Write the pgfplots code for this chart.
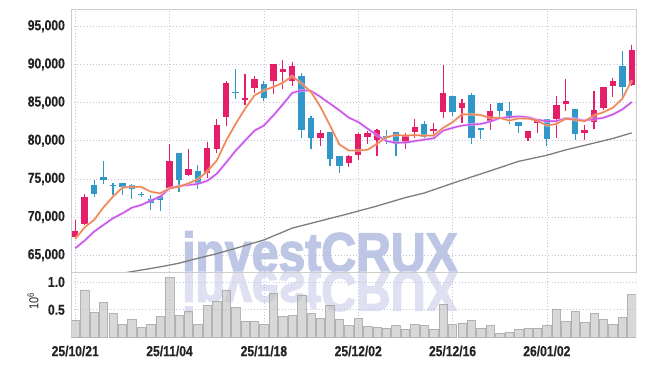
\documentclass[border=0pt]{standalone}
\usepackage{fontspec}
\setmainfont{Liberation Sans}[BoldFont={Liberation Sans Bold}, FakeStretch=0.84]
\newfontfamily\tickfnt{Liberation Sans Bold}[FakeStretch=0.84, FakeBold=0.4]
\newfontfamily\wmfont{Liberation Sans Bold}[FakeStretch=0.86, FakeBold=2.5]
\usepackage{pgfplots}
\pgfplotsset{compat=1.18}
\usepackage{pgfplotstable}

\definecolor{upc}{RGB}{228,30,105}
\definecolor{dnc}{RGB}{50,150,200}
\definecolor{maA}{RGB}{238,130,80}
\definecolor{maB}{RGB}{200,80,235}
\definecolor{maC}{RGB}{125,125,125}
\definecolor{gridc}{RGB}{195,195,222}
\definecolor{framec}{RGB}{205,205,205}
\definecolor{wm}{RGB}{190,198,229}
\definecolor{wmr}{RGB}{223,225,242}
\definecolor{tickc}{RGB}{35,35,35}
\definecolor{volf}{RGB}{190,190,190}
\definecolor{vold}{RGB}{165,165,165}

\pgfplotstableread{
i o h l c
0 67450 69600 67350 68180
1 69100 73020 68920 72630
10 73760 79600 73680 77300
12 75550 78950 75380 76250
14 75730 79870 75070 79000
15 78870 82870 78430 82120
16 83090 87890 81990 87540
18 85290 88810 84630 85650
19 86920 88460 86300 88060
21 87840 90100 86080 90040
22 89030 90530 86790 89380
23 87850 90260 87240 89780
26 80350 81450 79340 80970
29 77060 78160 76540 77980
30 78160 81050 77460 80880
31 80480 81320 79520 80970
32 80090 81580 77940 81360
35 79690 80970 78860 80570
36 81090 82860 80390 81750
38 81250 82350 80450 81600
39 83750 89910 83000 86300
41 84280 85510 82300 84900
44 82650 84770 81420 83930
48 80340 81320 80010 81310
49 82345 82900 81070 82830
51 82830 85820 80370 84630
52 84850 88110 83930 85160
54 81030 82080 80150 81470
55 82480 86520 81550 83970
56 84280 87100 84060 87100
57 87180 88280 85730 87800
59 87270 92600 87140 91850
}\up

\pgfplotstableread{
i o h l c
2 74200 74810 72590 73070
3 75250 77300 74330 74900
4 74250 74500 72850 74100
5 74420 74500 72850 73890
6 74200 74330 72330 73720
7 73070 73280 72670 72920
8 72370 72890 70930 71800
9 72720 72720 70800 72280
11 78340 78340 73300 74850
13 76030 76820 73680 74420
17 86350 89340 85510 86200
20 87450 87890 85160 85650
24 88470 88900 80400 81450
25 82940 83290 78950 80400
27 81100 81100 76750 77590
28 77940 78030 75790 76670
33 80570 81450 79600 80350
34 81100 81100 77940 79560
37 82240 82590 80300 80460
40 85820 85820 83310 83710
42 85950 86300 79570 80370
43 81690 81700 80190 81380
45 84900 84900 83000 83890
46 83930 85070 82260 83050
47 82520 82520 80980 81950
50 82870 82870 79350 80190
53 84190 84190 80150 80850
58 89780 91800 85510 87050
}\down

\pgfplotstableread{
i a b
0 67135 65910
1 68660 66920
2 69620 68090
3 71280 68970
4 72670 69840
5 73850 70490
6 73980 71230
7 73940 71580
8 73330 72150
9 73110 72670
10 73760 73760
11 73980 74070
12 74420 74200
13 74940 74350
14 76000 74750
15 77400 75670
16 80010 77150
17 82210 78690
18 84190 80010
19 85950 81330
20 86610 81990
21 87050 83320
22 87600 84750
23 88460 86270
24 87500 86620
25 86400 86540
26 84430 85750
27 82020 84870
28 79520 83990
29 78730 83030
30 78730 82460
31 78820 81580
32 79600 80700
33 80480 79960
34 80750 79740
35 80700 79740
36 80750 79960
37 80670 80150
38 80670 80320
39 81690 81330
40 82430 81690
41 83450 81990
42 83450 82130
43 83360 82210
44 83000 82520
45 83000 82960
46 82650 83090
47 82920 83180
48 82900 83090
49 82650 82740
50 81990 82570
51 82210 82570
52 82870 82960
53 82740 82870
54 82570 82650
55 83310 82830
56 83750 83010
57 84330 83450
58 85510 84110
59 87930 85070
}\ma

\pgfplotstableread{
i g
3 62200
6 62850
9 63470
11 63950
13 64600
15 65200
17 65900
20 67000
23 68550
26 69500
29 70450
32 71450
35 72550
37 73150
40 74430
42 75250
44 76060
47 77300
50 78100
52 78800
55 79700
57 80300
59 81030
}\mlong

\pgfplotstableread{
i v
0 0.315
1 0.857
2 0.452
3 0.631
4 0.435
5 0.238
6 0.327
7 0.179
8 0.238
9 0.375
10 1.077
11 0.399
12 0.470
13 0.238
14 0.583
15 0.649
16 0.857
17 0.542
18 0.292
19 0.292
20 0.238
21 0.792
22 0.375
23 0.399
24 0.768
25 0.435
26 0.345
27 0.583
28 0.327
29 0.220
30 0.345
31 0.202
32 0.185
33 0.167
34 0.220
35 0.149
36 0.238
37 0.220
38 0.149
39 0.601
40 0.238
41 0.262
42 0.310
43 0.167
44 0.220
45 0.077
46 0.095
47 0.149
48 0.167
49 0.167
50 0.220
51 0.506
52 0.292
53 0.470
54 0.274
55 0.435
56 0.327
57 0.238
58 0.363
59 0.774
}\vol

\pgfplotsset{
  tickfont/.style={font=\tickfnt\fontsize{14.4}{16}\selectfont, text=tickc},
  mygrid/.style={grid=major, major grid style={gridc, line width=0.7pt, dash pattern=on 0.7pt off 2.4pt}},
  candle/.style 2 args={draw=none, mark=none, forget plot,
    error bars/.cd, y dir=minus, y explicit, error mark=none,
    error bar style={draw=#1, line width=#2}},
}

\begin{document}
\begin{tikzpicture}
\useasboundingbox (0,0) rectangle (645pt,366pt);
% watermark
\node[anchor=base, inner sep=0pt, text=wm, font=\wmfont\fontsize{56}{56}\selectfont] at (320pt,94pt) {investCRUX};
\node[anchor=base, inner sep=0pt, yscale=-1, text=wmr, font=\wmfont\fontsize{56}{56}\selectfont] at (320pt,94pt) {investCRUX};

\begin{axis}[
  at={(71pt,94pt)}, anchor=south west, scale only axis,
  width=565pt, height=263pt,
  xmin=-0.45, xmax=59.45, ymin=62800, ymax=97270,
  xtick={0,10,...,50}, xticklabels={},
  ytick={65000,70000,...,95000},
  mygrid,
  axis line style={framec, line width=0.8pt},
  tick style={draw=none},
  scaled y ticks=false,
  yticklabel style={tickfont, anchor=east, inner sep=0pt, xshift=-6pt,
    /pgf/number format/.cd, fixed, 1000 sep={,}, assume math mode=true},
]
% wicks
\addplot[candle={upc}{1.2pt}]
  table[x=i, y=h, y error expr={\thisrow{h}-\thisrow{l}}] {\up};
\addplot[candle={dnc}{1.2pt}]
  table[x=i, y=h, y error expr={\thisrow{h}-\thisrow{l}}] {\down};
% bodies
\addplot[candle={upc}{6.4pt}]
  table[x=i, y expr={max(\thisrow{o},\thisrow{c})}, y error expr={max(abs(\thisrow{o}-\thisrow{c}),150)}] {\up};
\addplot[candle={dnc}{6.4pt}]
  table[x=i, y expr={max(\thisrow{o},\thisrow{c})}, y error expr={max(abs(\thisrow{o}-\thisrow{c}),150)}] {\down};
% moving averages
\addplot[maC, line width=1.3pt, mark=none] table[x=i, y=g] {\mlong};
\addplot[maB!35, line width=3pt, mark=none, opacity=0.6] table[x=i, y=b] {\ma};
\addplot[maB, line width=1.4pt, mark=none] table[x=i, y=b] {\ma};
\addplot[maA!35, line width=3pt, mark=none, opacity=0.5] table[x=i, y=a] {\ma};
\addplot[maA, line width=1.4pt, mark=none] table[x=i, y=a] {\ma};
\end{axis}

\begin{axis}[
  at={(71pt,28.5pt)}, anchor=south west, scale only axis,
  width=565pt, height=65.5pt,
  xmin=-0.45, xmax=59.45, ymin=0, ymax=1.18,
  xtick={0,10,...,50},
  xticklabels={25/10/21,25/11/04,25/11/18,25/12/02,25/12/16,26/01/02},
  ytick={0.5,1.0},
  mygrid,
  axis line style={draw=none},
  tick style={draw=none},
  yticklabel style={tickfont, anchor=east, inner sep=0pt, xshift=-6pt,
    /pgf/number format/.cd, fixed, fixed zerofill, precision=1, assume math mode=true},
  xticklabel style={tickfont, anchor=north, inner sep=0pt, yshift=-8pt},
]
\addplot[ybar, bar width=8.4pt, fill=volf, fill opacity=0.6, draw=vold, draw opacity=0.8, line width=0.5pt]
  table[x=i, y=v] {\vol};
\draw[framec, line width=0.8pt] (rel axis cs:0,0) -- (rel axis cs:0,1);
\draw[framec, line width=0.8pt] (rel axis cs:1,0) -- (rel axis cs:1,1);
\end{axis}

\node[rotate=90, inner sep=0pt, text=tickc, font=\fontsize{13}{15}\selectfont] at (33pt,65pt) {10\textsuperscript{6}};
\end{tikzpicture}
\end{document}
